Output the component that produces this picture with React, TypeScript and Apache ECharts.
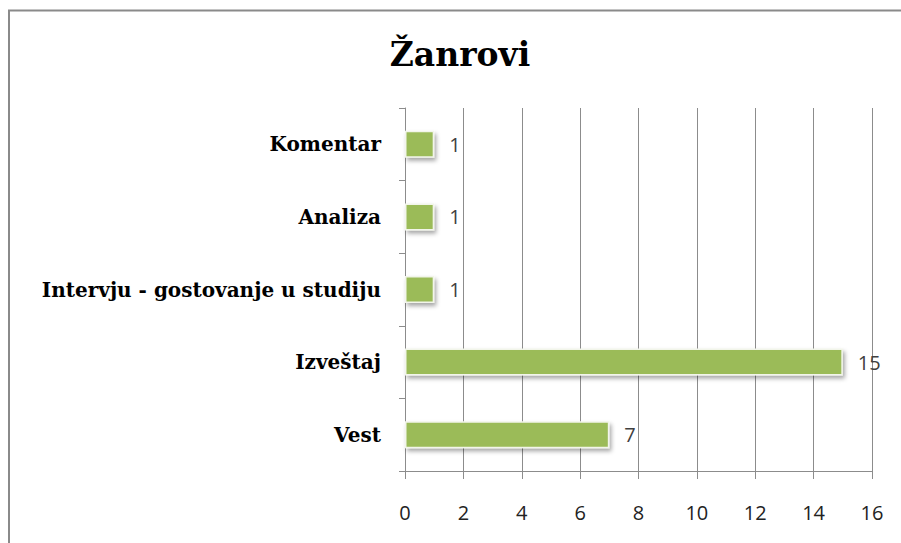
import React, { useEffect, useRef } from "react";
import * as echarts from "echarts";

const categories = ["Vest", "Izveštaj", "Intervju - gostovanje u studiju", "Analiza", "Komentar"];
const values = [7, 15, 1, 1, 1];
const titleText = "Žanrovi";
const axisMin = 0;
const axisMax = 16;
const axisStep = 2;

export default function App() {
  const ref = useRef<HTMLDivElement>(null);
  useEffect(() => {
    if (!ref.current) return;
    const chart = echarts.init(ref.current, undefined, { renderer: "svg" });
    chart.setOption({
      animation: false,
      backgroundColor: "#ffffff",
      title: {
        text: titleText,
        left: 455,
        top: 33,
        textAlign: "center",
        textStyle: { fontFamily: "DejaVu Serif", fontWeight: "bold", fontSize: 33, color: "#000" },
      },
      graphic: [
        {
          type: "polyline",
          shape: { points: [[9, 545], [9, 10.5], [905, 10.5]] },
          style: { stroke: "#8a8a8a", lineWidth: 2, fill: "none" },
          silent: true,
        },
      ],
      grid: { left: 405, right: 29, top: 108, bottom: 72 },
      xAxis: {
        type: "value",
        min: axisMin,
        max: axisMax,
        interval: axisStep,
        axisLine: { show: true, lineStyle: { color: "#8c8c8c", width: 1 } },
        axisTick: { show: true, length: 8, lineStyle: { color: "#8c8c8c" } },
        splitLine: { show: true, lineStyle: { color: "#8c8c8c", width: 1 } },
        axisLabel: { margin: 31, fontFamily: "Open Sans", fontSize: 20, color: "#222" },
      },
      yAxis: {
        type: "category",
        data: categories,
        axisLine: { show: true, lineStyle: { color: "#8c8c8c", width: 1 } },
        axisTick: { show: true, length: 6, lineStyle: { color: "#8c8c8c" } },
        axisLabel: { margin: 24, fontFamily: "DejaVu Serif", fontWeight: "bold", fontSize: 20, color: "#000" },
      },
      series: [
        {
          type: "bar",
          data: values,
          barWidth: 27,
          itemStyle: {
            color: "#9BBB59",
            borderColor: "#f2f5ea",
            borderWidth: 1.5,
            shadowBlur: 4,
            shadowColor: "rgba(0,0,0,0.35)",
            shadowOffsetX: 2,
            shadowOffsetY: 3,
          },
          label: {
            show: true,
            position: "right",
            distance: 15,
            fontFamily: "Open Sans",
            fontSize: 20,
            color: "#404040",
          },
        },
      ],
    });
    return () => chart.dispose();
  }, []);
  return <div ref={ref} style={{ position: "fixed", left: 0, top: 0, width: 901, height: 543 }} />;
}
